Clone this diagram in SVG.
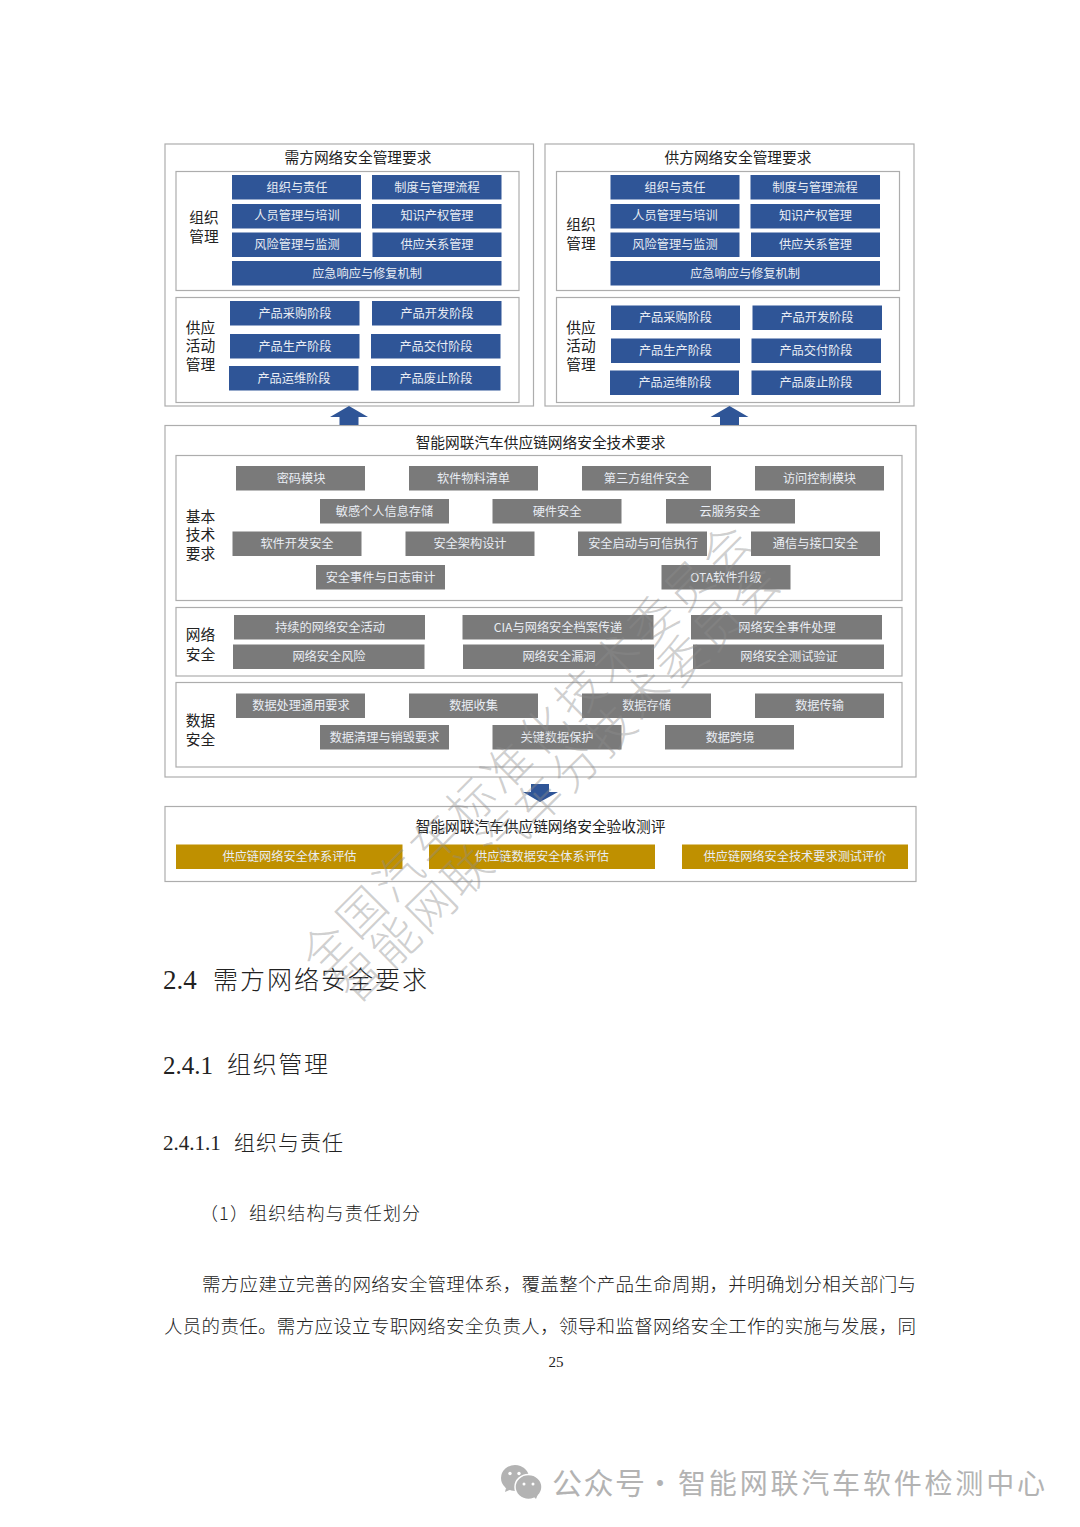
<svg xmlns="http://www.w3.org/2000/svg" width="1080" height="1527" viewBox="0 0 1080 1527">
<style>
text{font-family:"Noto Sans CJK SC","Liberation Sans",sans-serif}
.o{fill:#fff;stroke:#adadad;stroke-width:1.2}
.b{fill:#2f5597}.g{fill:#7a7a7a}.y{fill:#bf9000}
.l{font-size:12.200px;fill:#e9edf4;text-anchor:middle}
.t{font-size:14.700px;fill:#222;text-anchor:middle}
.s{font-size:14.700px;fill:#222;text-anchor:middle}
.h{fill:#2f5597}
.w{font-size:47px;fill:#8c8c8c;fill-opacity:.42;font-weight:300}
.d{fill:#222;font-weight:300}
.r{font-family:"Liberation Serif",serif}
.f{fill:#b3b3b3}
</style>
<rect width="1080" height="1527" fill="#fff"/>

<g id="demand">
<rect class="o" x="165" y="144" width="368.500" height="262"/>
<text class="t" x="358" y="162.500">需方网络安全管理要求</text>
<rect class="o" x="176" y="171.500" width="343" height="119"/>
<text class="s" x="204" y="223">组织</text><text class="s" x="204" y="242">管理</text>
<rect class="b" x="232" y="175" width="129" height="24.500"/><text class="l" x="297" y="191.500">组织与责任</text>
<rect class="b" x="372" y="175" width="129.500" height="24.500"/><text class="l" x="437" y="191.500">制度与管理流程</text>
<rect class="b" x="232" y="204" width="129" height="24.500"/><text class="l" x="297" y="220">人员管理与培训</text>
<rect class="b" x="372" y="204" width="129.500" height="24.500"/><text class="l" x="437" y="220">知识产权管理</text>
<rect class="b" x="232" y="232.500" width="129" height="24.500"/><text class="l" x="297" y="249">风险管理与监测</text>
<rect class="b" x="372.500" y="232.500" width="129" height="24.500"/><text class="l" x="437" y="249">供应关系管理</text>
<rect class="b" x="232" y="261" width="269.500" height="24.500"/><text class="l" x="367" y="277.500">应急响应与修复机制</text>
<rect class="o" x="176" y="297.500" width="343" height="105"/>
<text class="s" x="200.500" y="333">供应</text><text class="s" x="200.500" y="351">活动</text><text class="s" x="200.500" y="370">管理</text>
<rect class="b" x="230" y="301" width="129.500" height="24.500"/><text class="l" x="295" y="317.500">产品采购阶段</text>
<rect class="b" x="372" y="301" width="129.500" height="24.500"/><text class="l" x="437" y="317.500">产品开发阶段</text>
<rect class="b" x="230" y="334" width="129.500" height="24.500"/><text class="l" x="295" y="350.500">产品生产阶段</text>
<rect class="b" x="371" y="334" width="129.500" height="24.500"/><text class="l" x="436" y="350.500">产品交付阶段</text>
<rect class="b" x="229" y="366" width="129.500" height="24.500"/><text class="l" x="294" y="382.500">产品运维阶段</text>
<rect class="b" x="371" y="366" width="129.500" height="24.500"/><text class="l" x="436" y="382.500">产品废止阶段</text>
</g>

<g id="supply">
<rect class="o" x="545" y="144" width="369" height="262"/>
<text class="t" x="738" y="162.500">供方网络安全管理要求</text>
<rect class="o" x="556.500" y="171.500" width="343" height="119"/>
<text class="s" x="581" y="230">组织</text><text class="s" x="581" y="249">管理</text>
<rect class="b" x="610.500" y="175" width="129" height="24.500"/><text class="l" x="675" y="191.500">组织与责任</text>
<rect class="b" x="750.500" y="175" width="129.500" height="24.500"/><text class="l" x="815" y="191.500">制度与管理流程</text>
<rect class="b" x="610.500" y="204" width="129" height="24.500"/><text class="l" x="675" y="220">人员管理与培训</text>
<rect class="b" x="750.500" y="204" width="129.500" height="24.500"/><text class="l" x="815.500" y="220">知识产权管理</text>
<rect class="b" x="610.500" y="232.500" width="129" height="24.500"/><text class="l" x="675" y="249">风险管理与监测</text>
<rect class="b" x="751" y="232.500" width="129" height="24.500"/><text class="l" x="815.500" y="249">供应关系管理</text>
<rect class="b" x="610.500" y="261" width="269.500" height="24.500"/><text class="l" x="745" y="277.500">应急响应与修复机制</text>
<rect class="o" x="556.500" y="297.500" width="343" height="105"/>
<text class="s" x="581" y="333">供应</text><text class="s" x="581" y="351">活动</text><text class="s" x="581" y="370">管理</text>
<rect class="b" x="611" y="305.500" width="129" height="24.500"/><text class="l" x="675.500" y="322">产品采购阶段</text>
<rect class="b" x="752.500" y="305.500" width="129.500" height="24.500"/><text class="l" x="817" y="322">产品开发阶段</text>
<rect class="b" x="611" y="338.500" width="129" height="24.500"/><text class="l" x="675.500" y="355">产品生产阶段</text>
<rect class="b" x="751.500" y="338.500" width="129.500" height="24.500"/><text class="l" x="816" y="355">产品交付阶段</text>
<rect class="b" x="610" y="370.500" width="129" height="24.500"/><text class="l" x="675" y="387">产品运维阶段</text>
<rect class="b" x="751.500" y="370.500" width="129.500" height="24.500"/><text class="l" x="816" y="387">产品废止阶段</text>
</g>

<g id="tech">
<rect class="o" x="165" y="425.500" width="751" height="351.500"/>
<text class="t" x="540.500" y="447.500">智能网联汽车供应链网络安全技术要求</text>
<rect class="o" x="176" y="455.500" width="726" height="145"/>
<text class="s" x="200.500" y="522">基本</text><text class="s" x="200.500" y="540">技术</text><text class="s" x="200.500" y="559">要求</text>
<rect class="g" x="236" y="466" width="129" height="24.500"/><text class="l" x="301" y="482.500">密码模块</text>
<rect class="g" x="409" y="466" width="129" height="24.500"/><text class="l" x="473.500" y="482.500">软件物料清单</text>
<rect class="g" x="582" y="466" width="129" height="24.500"/><text class="l" x="646.500" y="482.500">第三方组件安全</text>
<rect class="g" x="755" y="466" width="129" height="24.500"/><text class="l" x="819.500" y="482.500">访问控制模块</text>
<rect class="g" x="320" y="499" width="129" height="24.500"/><text class="l" x="384.500" y="515.500">敏感个人信息存储</text>
<rect class="g" x="492.500" y="499" width="129" height="24.500"/><text class="l" x="557" y="515.500">硬件安全</text>
<rect class="g" x="666" y="499" width="129" height="24.500"/><text class="l" x="730" y="515.500">云服务安全</text>
<rect class="g" x="232.500" y="531.500" width="129" height="24.500"/><text class="l" x="297" y="548">软件开发安全</text>
<rect class="g" x="405.500" y="531.500" width="129" height="24.500"/><text class="l" x="470" y="548">安全架构设计</text>
<rect class="g" x="578" y="531.500" width="129" height="24.500"/><text class="l" x="643" y="548">安全启动与可信执行</text>
<rect class="g" x="751" y="531.500" width="129" height="24.500"/><text class="l" x="815.500" y="548">通信与接口安全</text>
<rect class="g" x="316" y="565" width="129" height="24.500"/><text class="l" x="380.500" y="581.500">安全事件与日志审计</text>
<rect class="g" x="661.500" y="565" width="129" height="24.500"/><text class="l" x="726" y="581.500">OTA软件升级</text>
<rect class="o" x="176" y="607.500" width="726" height="68.500"/>
<text class="s" x="200.500" y="640">网络</text><text class="s" x="200.500" y="660">安全</text>
<rect class="g" x="234" y="615" width="191" height="24.500"/><text class="l" x="330" y="631.500">持续的网络安全活动</text>
<rect class="g" x="462.500" y="615" width="191" height="24.500"/><text class="l" x="558" y="631.500">CIA与网络安全档案传递</text>
<rect class="g" x="691" y="615" width="191" height="24.500"/><text class="l" x="787" y="631.500">网络安全事件处理</text>
<rect class="g" x="233" y="644.500" width="191.500" height="24.500"/><text class="l" x="329" y="661">网络安全风险</text>
<rect class="g" x="463" y="644.500" width="191" height="24.500"/><text class="l" x="559" y="661">网络安全漏洞</text>
<rect class="g" x="693" y="644.500" width="191" height="24.500"/><text class="l" x="789" y="661">网络安全测试验证</text>
<rect class="o" x="176" y="682.500" width="726" height="84.500"/>
<text class="s" x="200.500" y="726">数据</text><text class="s" x="200.500" y="745">安全</text>
<rect class="g" x="236" y="693.500" width="129" height="24.500"/><text class="l" x="301" y="710">数据处理通用要求</text>
<rect class="g" x="409" y="693.500" width="129" height="24.500"/><text class="l" x="473.500" y="710">数据收集</text>
<rect class="g" x="582" y="693.500" width="129" height="24.500"/><text class="l" x="646.500" y="710">数据存储</text>
<rect class="g" x="755" y="693.500" width="129" height="24.500"/><text class="l" x="819.500" y="710">数据传输</text>
<rect class="g" x="320" y="725" width="129" height="24.500"/><text class="l" x="384.500" y="741.500">数据清理与销毁要求</text>
<rect class="g" x="492.500" y="725" width="129" height="24.500"/><text class="l" x="557" y="741.500">关键数据保护</text>
<rect class="g" x="665" y="725" width="129" height="24.500"/><text class="l" x="730" y="741.500">数据跨境</text>
</g>

<g id="acceptance">
<rect class="o" x="165" y="806.500" width="751" height="75"/>
<text class="t" x="540.500" y="832">智能网联汽车供应链网络安全验收测评</text>
<rect class="y" x="176" y="844.500" width="226.500" height="24.500"/><text class="l" x="289.500" y="861">供应链网络安全体系评估</text>
<rect class="y" x="429" y="844.500" width="226" height="24.500"/><text class="l" x="542" y="861">供应链数据安全体系评估</text>
<rect class="y" x="682" y="844.500" width="226" height="24.500"/><text class="l" x="795" y="861">供应链网络安全技术要求测试评价</text>
</g>

<g id="connectors">
<polygon class="h" points="349,406 368,417 358.500,417 358.500,425 339.500,425 339.500,417 330,417"/>
<polygon class="h" points="729.500,406 748.500,417 739,417 739,425 720,425 720,417 710.500,417"/>
<polygon class="h" points="531,784 549,784 549,792 558,792 540,802 523,792 531,792"/>
</g>

<g id="page">
<text x="163" y="989" font-size="27" class="r" fill="#222">2.4</text>
<text x="213" y="989" font-size="25" class="d" textLength="214">需方网络安全要求</text>
<text x="163" y="1074" font-size="25" class="r" fill="#222">2.4.1</text>
<text x="227" y="1073" font-size="24" class="d" textLength="101">组织管理</text>
<text x="163" y="1150" font-size="21" class="r" fill="#222">2.4.1.1</text>
<text x="234" y="1150" font-size="21" class="d" textLength="109">组织与责任</text>
<text x="200" y="1220" font-size="18" class="d" textLength="220">（1）组织结构与责任划分</text>
<text x="202" y="1291" font-size="18.500" class="d" textLength="714">需方应建立完善的网络安全管理体系，覆盖整个产品生命周期，并明确划分相关部门与</text>
<text x="164" y="1333" font-size="18.500" class="d" textLength="752">人员的责任。需方应设立专职网络安全负责人，领导和监督网络安全工作的实施与发展，同</text>
<text x="556" y="1367" font-size="15" class="r" fill="#222" text-anchor="middle">25</text>
</g>

<g id="watermark">
<text class="w" transform="translate(321 977) rotate(-45)" textLength="612">全国汽车标准化技术委员会</text>
<text class="w" transform="translate(355 1006) rotate(-44.500)" textLength="600">智能网联汽车分技术委员会</text>
</g>

<g id="footer">
<ellipse class="f" cx="515" cy="1478" rx="14" ry="13"/>
<polygon class="f" points="506,1488 505,1492 512,1489"/>
<ellipse class="f" cx="528.500" cy="1487" rx="13.500" ry="12.500" stroke="#fff" stroke-width="1.500"/>
<polygon class="f" points="534,1497 536,1499 538,1494"/>
<circle cx="510" cy="1473.500" r="1.700" fill="#fff"/><circle cx="519" cy="1473.500" r="1.700" fill="#fff"/>
<circle cx="524" cy="1484" r="1.500" fill="#fff"/><circle cx="533" cy="1484" r="1.500" fill="#fff"/>
<text x="552" y="1494" font-size="30" class="f" textLength="93">公众号</text>
<text x="660" y="1494" font-size="28" class="f" text-anchor="middle">·</text>
<text x="678" y="1494" font-size="28" class="f" textLength="367">智能网联汽车软件检测中心</text>
</g>
</svg>
